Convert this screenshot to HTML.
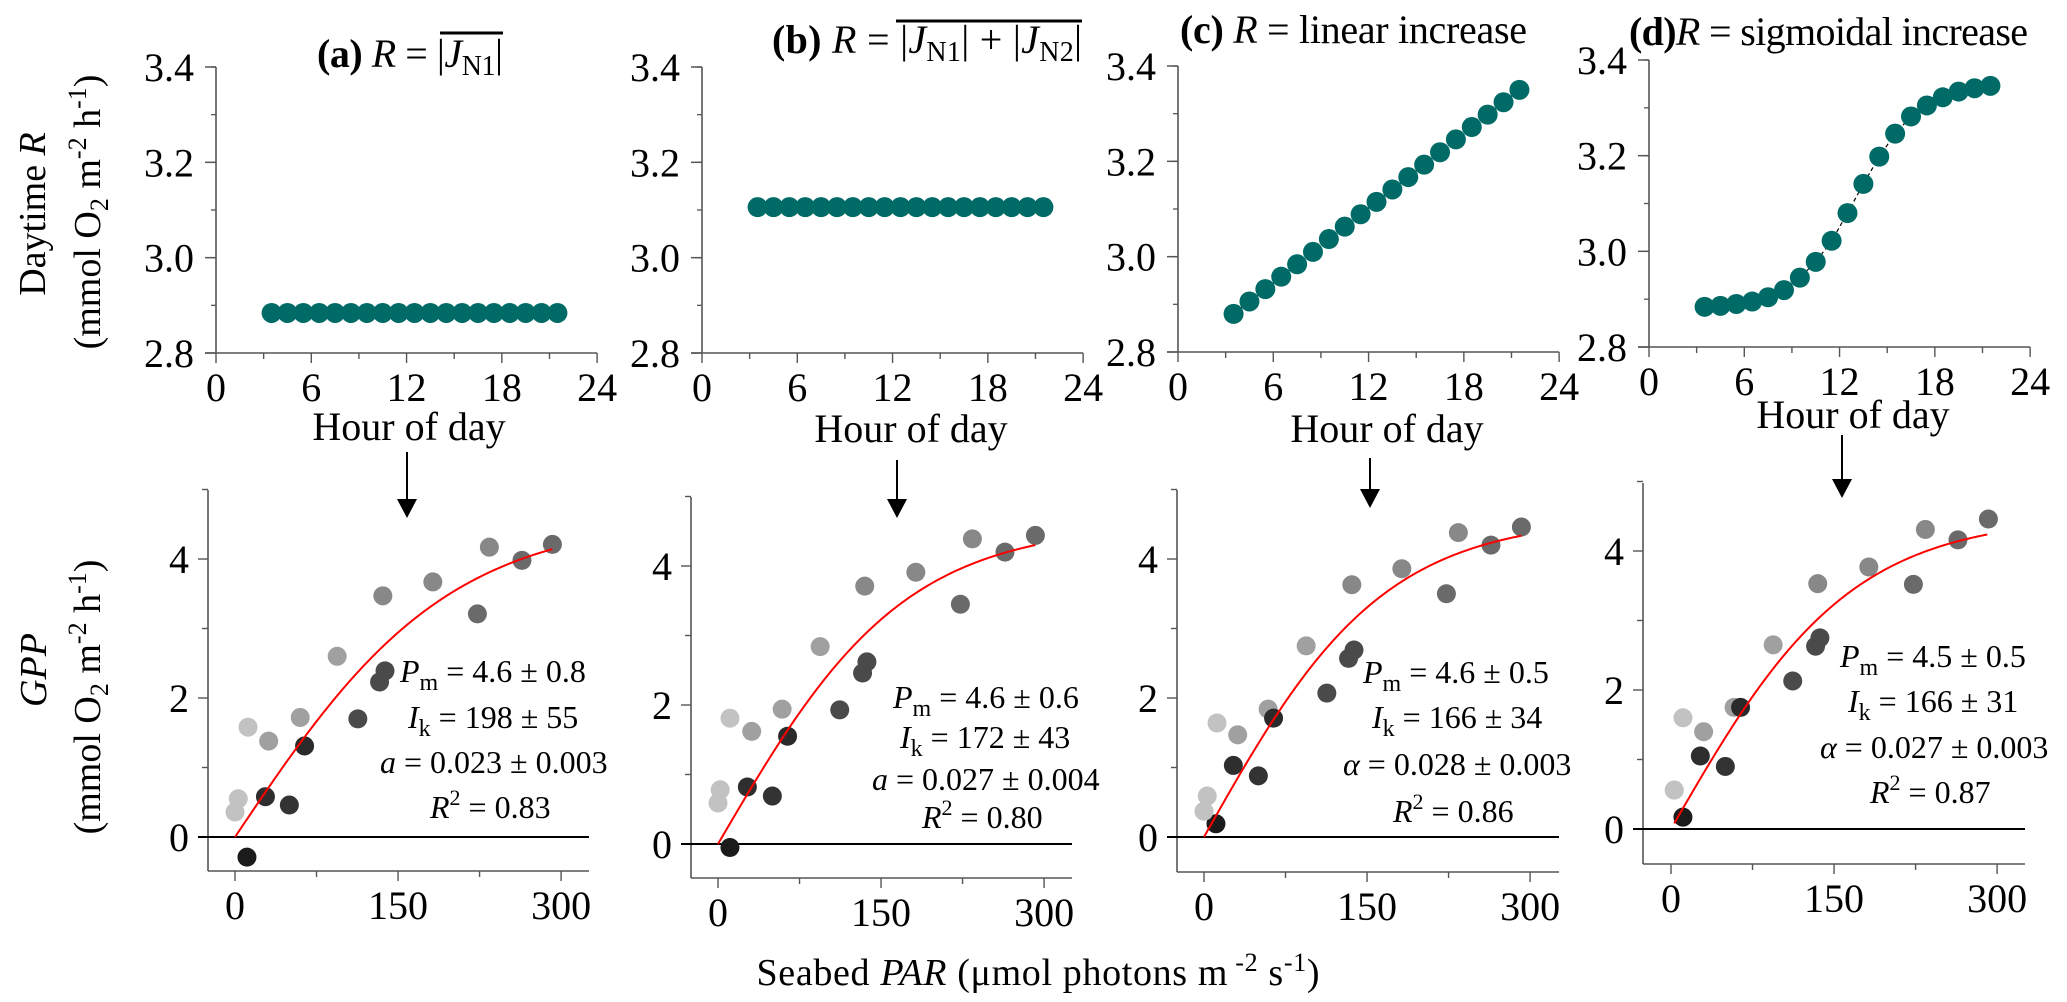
<!DOCTYPE html>
<html><head><meta charset="utf-8">
<style>
html,body{margin:0;padding:0;background:#fff;}
svg{display:block;font-family:"Liberation Serif","DejaVu Serif",serif;}
</style></head>
<body>
<svg id="fig" width="2067" height="1002" viewBox="0 0 2067 1002" xmlns="http://www.w3.org/2000/svg">
<rect x="0" y="0" width="2067" height="1002" fill="#fff"/>

<!-- Titles -->
<text x="317" y="67" font-size="40" textLength="186"><tspan font-weight="bold">(a)</tspan> <tspan font-style="italic">R</tspan> = |<tspan font-style="italic">J</tspan><tspan font-size="28" dy="8">N1</tspan><tspan dy="-8">|</tspan></text>
<line x1="440" y1="33" x2="503" y2="33" stroke="#000" stroke-width="3"/>
<text x="772" y="53" font-size="40" textLength="310"><tspan font-weight="bold">(b)</tspan> <tspan font-style="italic">R</tspan> = |<tspan font-style="italic">J</tspan><tspan font-size="28" dy="8">N1</tspan><tspan dy="-8">| + |</tspan><tspan font-style="italic">J</tspan><tspan font-size="28" dy="8">N2</tspan><tspan dy="-8">|</tspan></text>
<line x1="896" y1="21" x2="1082" y2="21" stroke="#000" stroke-width="3"/>
<text x="1180" y="43" font-size="40" textLength="347"><tspan font-weight="bold">(c)</tspan> <tspan font-style="italic">R</tspan> = linear increase</text>
<text x="1629" y="45" font-size="40" textLength="399"><tspan font-weight="bold">(d)</tspan><tspan font-style="italic">R</tspan> = sigmoidal increase</text>

<!-- Y axis titles -->
<text transform="translate(45,214) rotate(-90)" text-anchor="middle" font-size="38">Daytime <tspan font-style="italic">R</tspan></text>
<text transform="translate(100,212) rotate(-90)" text-anchor="middle" font-size="38">(mmol O<tspan font-size="26" dy="8">2</tspan><tspan dy="-8"> m</tspan><tspan font-size="26" dy="-14">-2</tspan><tspan dy="14"> h</tspan><tspan font-size="26" dy="-14">-1</tspan><tspan dy="14">)</tspan></text>
<text transform="translate(46,670) rotate(-90)" text-anchor="middle" font-size="38" font-style="italic">GPP</text>
<text transform="translate(100,697) rotate(-90)" text-anchor="middle" font-size="38">(mmol O<tspan font-size="26" dy="8">2</tspan><tspan dy="-8"> m</tspan><tspan font-size="26" dy="-14">-2</tspan><tspan dy="14"> h</tspan><tspan font-size="26" dy="-14">-1</tspan><tspan dy="14">)</tspan></text>

<!-- Hour of day labels -->
<text x="409" y="440" text-anchor="middle" font-size="40">Hour of day</text>
<text x="911" y="442" text-anchor="middle" font-size="40">Hour of day</text>
<text x="1387" y="442" text-anchor="middle" font-size="40">Hour of day</text>
<text x="1853" y="428" text-anchor="middle" font-size="40">Hour of day</text>

<!-- Arrows -->
<g><line x1="407" y1="452" x2="407" y2="502" stroke="#000" stroke-width="2"/><polygon points="397,499 417,499 407,518" fill="#000"/></g>
<g><line x1="897" y1="460" x2="897" y2="502" stroke="#000" stroke-width="2"/><polygon points="887,499 907,499 897,518" fill="#000"/></g>
<g><line x1="1370" y1="458" x2="1370" y2="492" stroke="#000" stroke-width="2"/><polygon points="1360,489 1380,489 1370,508" fill="#000"/></g>
<g><line x1="1842" y1="435" x2="1842" y2="482" stroke="#000" stroke-width="2"/><polygon points="1832,479 1852,479 1842,498" fill="#000"/></g>

<!-- Annotations -->
<g font-size="32">
<text x="400" y="682"><tspan font-style="italic">P</tspan><tspan font-size="24" dy="8">m</tspan><tspan dy="-8"> = 4.6  ± 0.8</tspan></text>
<text x="408" y="728"><tspan font-style="italic">I</tspan><tspan font-size="24" dy="8">k</tspan><tspan dy="-8"> = 198  ± 55</tspan></text>
<text x="380" y="773"><tspan font-style="italic">a</tspan> = 0.023  ± 0.003</text>
<text x="430" y="818"><tspan font-style="italic">R</tspan><tspan font-size="22" dy="-13">2</tspan><tspan dy="13"> = 0.83</tspan></text>
</g>
<g font-size="32">
<text x="893" y="708"><tspan font-style="italic">P</tspan><tspan font-size="24" dy="8">m</tspan><tspan dy="-8"> = 4.6  ± 0.6</tspan></text>
<text x="900" y="748"><tspan font-style="italic">I</tspan><tspan font-size="24" dy="8">k</tspan><tspan dy="-8"> = 172  ± 43</tspan></text>
<text x="872" y="790"><tspan font-style="italic">a</tspan> = 0.027 ± 0.004</text>
<text x="922" y="828"><tspan font-style="italic">R</tspan><tspan font-size="22" dy="-13">2</tspan><tspan dy="13"> = 0.80</tspan></text>
</g>
<g font-size="32">
<text x="1363" y="683"><tspan font-style="italic">P</tspan><tspan font-size="24" dy="8">m</tspan><tspan dy="-8"> = 4.6  ± 0.5</tspan></text>
<text x="1372" y="728"><tspan font-style="italic">I</tspan><tspan font-size="24" dy="8">k</tspan><tspan dy="-8"> = 166  ± 34</tspan></text>
<text x="1343" y="775"><tspan font-style="italic">α</tspan> = 0.028 ± 0.003</text>
<text x="1393" y="822"><tspan font-style="italic">R</tspan><tspan font-size="22" dy="-13">2</tspan><tspan dy="13"> = 0.86</tspan></text>
</g>
<g font-size="32">
<text x="1840" y="667"><tspan font-style="italic">P</tspan><tspan font-size="24" dy="8">m</tspan><tspan dy="-8"> = 4.5  ± 0.5</tspan></text>
<text x="1848" y="712"><tspan font-style="italic">I</tspan><tspan font-size="24" dy="8">k</tspan><tspan dy="-8"> = 166  ± 31</tspan></text>
<text x="1820" y="758"><tspan font-style="italic">α</tspan> = 0.027 ± 0.003</text>
<text x="1870" y="803"><tspan font-style="italic">R</tspan><tspan font-size="22" dy="-13">2</tspan><tspan dy="13"> = 0.87</tspan></text>
</g>

<text x="1038" y="985" text-anchor="middle" font-size="38" textLength="563">Seabed <tspan font-style="italic">PAR</tspan> (μmol photons m<tspan font-size="26" dy="-14"> -2</tspan><tspan dy="14"> s</tspan><tspan font-size="26" dy="-14">-1</tspan><tspan dy="14">)</tspan></text>
</svg>

<script>
// ---------- DATA ----------
const hours = [3.5,4.5,5.5,6.5,7.5,8.5,9.5,10.5,11.5,12.5,13.5,14.5,15.5,16.5,17.5,18.5,19.5,20.5,21.5];
const respA = [2.884,2.884,2.884,2.884,2.884,2.884,2.884,2.884,2.884,2.884,2.884,2.884,2.884,2.884,2.884,2.884,2.884,2.884,2.884];
const respB = [3.106,3.106,3.106,3.106,3.106,3.106,3.106,3.106,3.106,3.106,3.106,3.106,3.106,3.106,3.106,3.106,3.106,3.106,3.106];
const respC = [2.880,2.906,2.932,2.958,2.984,3.010,3.037,3.063,3.089,3.115,3.141,3.167,3.193,3.219,3.246,3.272,3.298,3.324,3.350];
const respD = [2.884,2.886,2.890,2.895,2.904,2.919,2.945,2.978,3.022,3.080,3.141,3.198,3.246,3.282,3.305,3.322,3.334,3.341,3.346];
const rTicks = [2.8,3.0,3.2,3.4];
const rTickLabels = ["2.8","3.0","3.2","3.4"];
const hourTicks = [0,6,12,18,24];

const parA = [11,0,3,28,50,31,12,60,64,94,113,133,138,136,182,223,234,264,292];
const gppA = [-0.29,0.36,0.55,0.58,0.46,1.38,1.58,1.72,1.31,2.60,1.70,2.23,2.39,3.47,3.67,3.21,4.17,3.98,4.21];
const parB = [11,0,2,27,50,31,11,59,64,94,112,133,137,135,182,223,234,264,292];
const gppB = [-0.05,0.59,0.78,0.82,0.69,1.62,1.81,1.94,1.55,2.84,1.93,2.46,2.62,3.71,3.91,3.45,4.39,4.20,4.44];
const parC = [11,0,3,27,50,31,12,59,64,94,113,133,138,136,182,223,234,264,292];
const gppC = [0.19,0.37,0.59,1.03,0.88,1.47,1.64,1.84,1.71,2.75,2.07,2.57,2.69,3.63,3.86,3.50,4.38,4.20,4.46];
const parD = [11,3,3,27,50,30,11,58,64,94,112,133,137,135,182,223,234,264,292];
const gppD = [0.17,0.56,0.56,1.05,0.90,1.40,1.60,1.75,1.75,2.65,2.13,2.63,2.75,3.53,3.77,3.52,4.31,4.16,4.46];
const fitPm = [4.6,4.6,4.6,4.5];
const fitIk = [198,172,166,166];
const fitStart = [0,0,0,3];
const fitEnd = [292,292,292,292];
const gppTicks = [0,2,4];
const parTicks = [0,150,300];

// ---------- STYLE / LAYOUT ----------
const shades = ["#1b1b1b","#c2c2c2","#c2c2c2","#2e2e2e","#333333","#a0a0a0","#c2c2c2","#a0a0a0","#2a2a2a","#a0a0a0","#4a4a4a","#4a4a4a","#4a4a4a","#888888","#888888","#6a6a6a","#888888","#6a6a6a","#6a6a6a"];
const topPanels = [
  {id:'a', x0:216, y28:353, y34:67, r:respA},
  {id:'b', x0:702, y28:353, y34:67, r:respB},
  {id:'c', x0:1178, y28:352, y34:66, r:respC},
  {id:'d', x0:1649, y28:347, y34:60, r:respD}
];
const botPanels = [
  {id:'a', ax:208, x0:235, y0:837, top:490, bottom:871, right:589, p:parA, g:gppA},
  {id:'b', ax:691, x0:718, y0:844, top:497, bottom:878, right:1072, p:parB, g:gppB},
  {id:'c', ax:1177, x0:1204, y0:837, top:490, bottom:872, right:1559, p:parC, g:gppC},
  {id:'d', ax:1643, x0:1671, y0:829, top:483, bottom:864, right:2025, p:parD, g:gppD}
];
const HPX = 15.88, PARPX = 1.087, GPPPX = 69.5;
const NS = 'http://www.w3.org/2000/svg';
const svg = document.getElementById('fig');
function mk(tag, attrs, parent){
  const e = document.createElementNS(NS, tag);
  for (const k in attrs) e.setAttribute(k, attrs[k]);
  (parent||svg).appendChild(e);
  return e;
}
const AX = '#555';

topPanels.forEach((P) => {
  const g = mk('g', {});
  
  
  const xs = h => P.x0 + h * HPX;
  const ys = v => P.y28 - (v - 2.8) / 0.6 * (P.y28 - P.y34);
  const yl = mk('line', {x1:P.x0, y1:P.y34, x2:P.x0, y2:P.y28, stroke:AX, 'stroke-width':1.6}, g);
  
  
  const xl = mk('line', {x1:P.x0 - 11, y1:P.y28, x2:xs(24), y2:P.y28, stroke:AX, 'stroke-width':1.6}, g);
  
  
  for (let v = 2.9; v < 3.45; v += 0.1) {
    const t = mk('line', {x1:P.x0 - 5, y1:ys(v), x2:P.x0, y2:ys(v), stroke:AX, 'stroke-width':1.3}, g);
    
    
  }
  rTicks.forEach((v, i) => {
    const t = mk('line', {x1:P.x0 - 11, y1:ys(v), x2:P.x0, y2:ys(v), stroke:AX, 'stroke-width':1.5}, g);
    
    
    const tx = mk('text', {x:P.x0 - 22, y:ys(v) + 14, 'text-anchor':'end', 'font-size':40}, g);
    tx.textContent = rTickLabels[i];
    
    
  });
  for (let h = 0; h <= 24; h += 3) {
    const major = h % 6 === 0;
    const t = mk('line', {x1:xs(h), y1:P.y28, x2:xs(h), y2:P.y28 + (major ? 10 : 6), stroke:AX, 'stroke-width':1.4}, g);
    
    
  }
  hourTicks.forEach(h => {
    const tx = mk('text', {x:xs(h), y:P.y28 + 48, 'text-anchor':'middle', 'font-size':40}, g);
    tx.textContent = String(h);
    
    
  });
  const pts = hours.map((h, i) => xs(h) + ',' + ys(P.r[i])).join(' ');
  const pl = mk('polyline', {points:pts, fill:'none', stroke:'#000', 'stroke-width':1.2, 'stroke-dasharray':'4,3'}, g);
  
  
  hours.forEach((h, i) => {
    const c = mk('circle', {cx:xs(h), cy:ys(P.r[i]), r:10, fill:'#006b66'}, g);
    
    
  });
});

botPanels.forEach((P, k) => {
  const g = mk('g', {});
  
  
  const xs = v => P.x0 + v * PARPX;
  const ys = v => P.y0 - v * GPPPX;
  const yl = mk('line', {x1:P.ax, y1:P.top, x2:P.ax, y2:P.bottom, stroke:AX, 'stroke-width':1.6}, g);
  
  
  const xl = mk('line', {x1:P.ax, y1:P.bottom, x2:P.right, y2:P.bottom, stroke:AX, 'stroke-width':1.6}, g);
  
  
  const zl = mk('line', {x1:P.ax - 10, y1:P.y0, x2:P.right, y2:P.y0, stroke:'#000', 'stroke-width':2}, g);
  
  
  for (let v = 1; v <= 5; v++) {
    const major = v % 2 === 0;
    const t = mk('line', {x1:P.ax - (major ? 10 : 6), y1:ys(v), x2:P.ax, y2:ys(v), stroke:AX, 'stroke-width':1.4}, g);
    
    
  }
  gppTicks.forEach(v => {
    const tx = mk('text', {x:P.ax - 19, y:ys(v) + 14, 'text-anchor':'end', 'font-size':40}, g);
    tx.textContent = String(v);
    
    
  });
  for (let v = 0; v <= 300; v += 75) {
    const major = v % 150 === 0;
    const t = mk('line', {x1:xs(v), y1:P.bottom, x2:xs(v), y2:P.bottom + (major ? 10 : 6), stroke:AX, 'stroke-width':1.4}, g);
    
    
  }
  parTicks.forEach(v => {
    const tx = mk('text', {x:xs(v), y:P.bottom + 48, 'text-anchor':'middle', 'font-size':40}, g);
    tx.textContent = String(v);
    
    
  });
  P.p.forEach((v, i) => {
    const c = mk('circle', {cx:xs(v), cy:ys(P.g[i]), r:9.5, fill:shades[i]}, g);
    
    
  });
  const pts = [];
  for (let I = fitStart[k]; I <= fitEnd[k]; I += 2) {
    pts.push(xs(I) + ',' + ys(fitPm[k] * Math.tanh(I / fitIk[k])));
  }
  const fl = mk('polyline', {points:pts.join(' '), fill:'none', stroke:'#ff0000', 'stroke-width':2}, g);
  
  
});
</script>
</body></html>
